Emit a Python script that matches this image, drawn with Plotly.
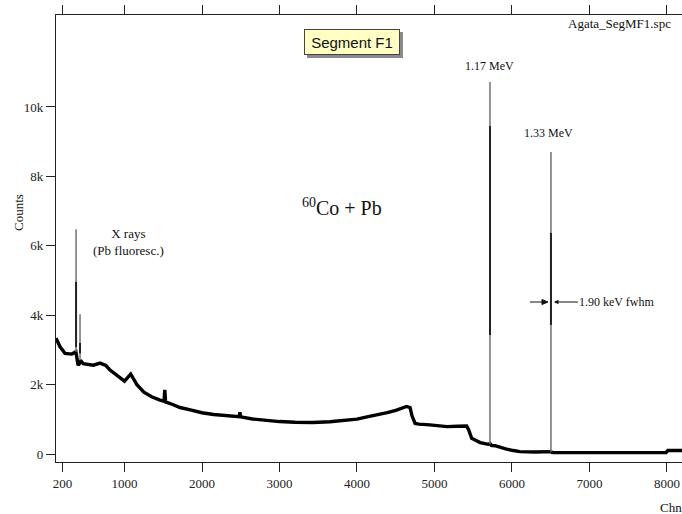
import plotly.graph_objects as go

# ---------------- data ----------------
cont_channels = [116, 168, 232, 319, 361, 372, 380, 400, 418, 432, 468, 530, 597, 684,
                 760, 813, 880, 942, 1000, 1040, 1080, 1120, 1160, 1250, 1350, 1450,
                 1510, 1520, 1530, 1630, 1716, 1850, 2000, 2150, 2300, 2480, 2490, 2500,
                 2650, 2800, 3000, 3200, 3430, 3650, 3870, 4000, 4130, 4250, 4390, 4500,
                 4560, 4640, 4685, 4710, 4750, 4800, 4940, 5050, 5160, 5300, 5415, 5440,
                 5480, 5590, 5694, 5716, 5735, 5780, 5850, 5930, 6020, 6100, 6300, 6447,
                 6503, 6520, 6700, 7000, 7300, 7600, 7990, 8010, 8194]
cont_counts = [3340, 3090, 2900, 2880, 2930, 2950, 2850, 2560, 2600, 2700, 2600, 2580, 2560, 2620,
               2550, 2420, 2300, 2180, 2100, 2200, 2300, 2150, 2000, 1780, 1650, 1560,
               1520, 1850, 1500, 1420, 1340, 1270, 1190, 1140, 1110, 1075, 1200, 1070,
               1010, 970, 935, 915, 910, 930, 975, 1005, 1070, 1120, 1190, 1260,
               1315, 1370, 1340, 1100, 880, 860, 840, 820, 790, 800, 805, 700,
               450, 330, 280, 300, 250, 240, 190, 140, 100, 70, 60, 60,
               70, 45, 42, 40, 40, 40, 40, 100, 100]

peak_channels = [375, 426, 5716, 6503]
peak_base = [2950, 2700, 290, 65]
peak_max = [6480, 4030, 10720, 8700]
peak_core_low = [3080, 2900, 3430, 3720]
peak_core_high = [4960, 3200, 9450, 6370]

x_tick_vals = [200, 1000, 2000, 3000, 4000, 5000, 6000, 7000, 8000]
x_tick_text = ["200", "1000", "2000", "3000", "4000", "5000", "6000", "7000", "8000"]
y_tick_vals = [0, 2000, 4000, 6000, 8000, 10000]
y_tick_text = ["0", "2k", "4k", "6k", "8k", "10k"]
x_minor_vals = [v for v in range(200, 8200, 100) if v not in x_tick_vals]
y_minor_vals = [v for v in range(-200, 12600, 200) if v not in y_tick_vals]

X_RANGE = [116, 8194]
Y_RANGE = [-230, 12650]

# ---------------- layout geometry ----------------
W, H = 682, 514
L, R, T, B = 56, 0, 15, 52
PW, PH = W - L - R, H - T - B
MINOR_LEN = 6

# pixel offsets converted to axis units (for the minor tick marks just outside the frame)
x_per_px = (X_RANGE[1] - X_RANGE[0]) / PW
y_per_px = (Y_RANGE[1] - Y_RANGE[0]) / PH
half = MINOR_LEN / 2


def px(xp):
    return (xp - L) / PW


def py(yp):
    return (T + PH - yp) / PH


SERIF = "Liberation Serif"
SANS = "Liberation Sans"
AX = "#222222"

fig = go.Figure()

fig.add_trace(go.Scatter(x=cont_channels, y=cont_counts, mode="lines",
                         line=dict(color="#000000", width=3.4), hoverinfo="skip",
                         showlegend=False))

for c, b, m in zip(peak_channels, peak_base, peak_max):
    fig.add_trace(go.Scatter(x=[c, c], y=[b, m], mode="lines",
                             line=dict(color="#7a7a7a", width=1.6), showlegend=False,
                             hoverinfo="skip"))
for c, lo, hi in zip(peak_channels, peak_core_low, peak_core_high):
    fig.add_trace(go.Scatter(x=[c, c], y=[lo, hi], mode="lines",
                             line=dict(color="#222222", width=2), showlegend=False,
                             hoverinfo="skip"))

# minor tick marks drawn as line markers just outside the frame
tick_marker = dict(size=MINOR_LEN, color=AX, line=dict(color=AX, width=1.2))
fig.add_trace(go.Scatter(x=x_minor_vals,
                         y=[Y_RANGE[0] - half * y_per_px] * len(x_minor_vals),
                         mode="markers", marker=dict(symbol="line-ns", **tick_marker),
                         cliponaxis=False, hoverinfo="skip", showlegend=False))
fig.add_trace(go.Scatter(x=x_minor_vals,
                         y=[Y_RANGE[1] + half * y_per_px] * len(x_minor_vals),
                         mode="markers", marker=dict(symbol="line-ns", **tick_marker),
                         cliponaxis=False, hoverinfo="skip", showlegend=False))
fig.add_trace(go.Scatter(x=[X_RANGE[0] - half * x_per_px] * len(y_minor_vals),
                         y=y_minor_vals,
                         mode="markers", marker=dict(symbol="line-ew", **tick_marker),
                         cliponaxis=False, hoverinfo="skip", showlegend=False))

axis_font = dict(family=SERIF, size=13, color="#222222")

fig.update_layout(
    width=W, height=H,
    margin=dict(l=L, r=R, t=T, b=B, pad=0),
    paper_bgcolor="white", plot_bgcolor="white",
    showlegend=False,
    xaxis=dict(range=X_RANGE, tickmode="array", tickvals=x_tick_vals,
               ticktext=x_tick_text, ticks="outside", ticklen=9, tickwidth=1.2,
               tickcolor=AX, showline=True, linecolor=AX, linewidth=1.2,
               mirror="ticks", showgrid=False, zeroline=False, tickfont=axis_font),
    yaxis=dict(range=Y_RANGE, tickmode="array", tickvals=y_tick_vals,
               ticktext=y_tick_text, ticks="outside", ticklen=9, tickwidth=1.2,
               tickcolor=AX, showline=True, linecolor=AX, linewidth=1.2,
               showgrid=False, zeroline=False, tickfont=axis_font),
)

annots = []
txt = dict(family=SERIF, color="#111111")
annots.append(dict(text="Agata_SegMF1.spc", xref="paper", yref="paper", x=px(673), y=py(24),
                   xanchor="right", yanchor="middle", showarrow=False, font=dict(size=13, **txt)))
annots.append(dict(text="1.17 MeV", xref="x", yref="paper", x=5716, y=py(66),
                   xanchor="center", yanchor="middle", showarrow=False, font=dict(size=12, **txt)))
annots.append(dict(text="1.33 MeV", xref="x", yref="paper", x=6465, y=py(133),
                   xanchor="center", yanchor="middle", showarrow=False, font=dict(size=12, **txt)))
annots.append(dict(text="X rays<br>(Pb fluoresc.)", xref="paper", yref="paper", x=px(128), y=py(242),
                   xanchor="center", yanchor="middle", showarrow=False, align="center",
                   font=dict(size=13, **txt)))
annots.append(dict(text="<sup>60</sup>Co + Pb", xref="paper", yref="paper", x=px(342), y=py(207),
                   xanchor="center", yanchor="middle", showarrow=False, font=dict(size=20, **txt)))
annots.append(dict(text="1.90 keV fwhm", xref="x", yref="paper", x=6503, y=py(302),
                   showarrow=True, ax=66, ay=0, arrowhead=2, arrowsize=0.9, arrowwidth=1,
                   arrowcolor="#111", standoff=3, borderpad=1, font=dict(size=12, **txt)))
annots.append(dict(text="Counts", xref="paper", yref="paper", x=px(18), y=py(213),
                   xanchor="center", yanchor="middle", textangle=-90, showarrow=False,
                   font=dict(size=13, **txt)))
annots.append(dict(text="Chn", xref="paper", yref="paper", x=px(658), y=py(507),
                   xanchor="left", yanchor="middle", showarrow=False, font=dict(size=13, **txt)))
annots.append(dict(text="Segment F1", xref="paper", yref="paper", x=px(352), y=py(42),
                   xanchor="center", yanchor="middle", showarrow=False,
                   width=88, height=18, borderpad=3, bgcolor="#FFFFC4",
                   bordercolor="#444444", borderwidth=1,
                   font=dict(family=SANS, size=15, color="#111111")))
fig.update_layout(annotations=annots)

fig.add_shape(type="path", xref="x", yref="paper", xsizemode="pixel", ysizemode="pixel",
              xanchor=6503, yanchor=py(302), path="M -21 0 L -6 0",
              line=dict(color="#111", width=1))
fig.add_shape(type="path", xref="x", yref="paper", xsizemode="pixel", ysizemode="pixel",
              xanchor=6503, yanchor=py(302), path="M -3 0 L -9 2.5 L -9 -2.5 Z",
              line=dict(color="#111", width=1), fillcolor="#111")

fig.add_shape(type="rect", xref="paper", yref="paper",
              x0=px(307), x1=px(403), y0=py(58), y1=py(32),
              line=dict(width=0), fillcolor="#8a8a8a", layer="above")

fig.write_html("out.html")
